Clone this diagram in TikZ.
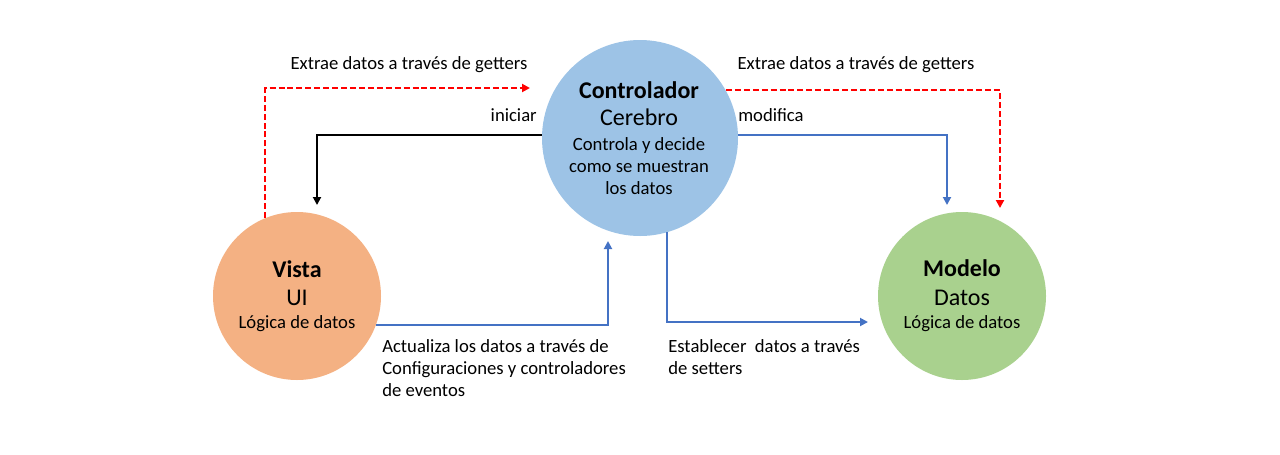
\documentclass[tikz,border=0pt]{standalone}
\usepackage{fontspec}
\setmainfont{Carlito}
\usetikzlibrary{arrows.meta}
\definecolor{cblue}{HTML}{9DC3E6}
\definecolor{corange}{HTML}{F4B183}
\definecolor{cgreen}{HTML}{A9D18E}
\definecolor{lblue}{HTML}{4472C4}
\begin{document}
\begin{tikzpicture}[x=0.75pt,y=-0.75pt,
  bubble/.style={circle,inner sep=0pt},
  txt/.style={inner sep=0pt,font=\fontsize{14}{16.5}\selectfont},
  big/.style={inner sep=0pt,font=\fontsize{18}{20}\selectfont},
  bigb/.style={inner sep=0pt,font=\fontsize{18}{20}\selectfont\bfseries},
  tip/.style={-{Triangle[length=6pt,width=6pt]}},
  blkline/.style={tip,line width=1.4pt,black},
  bluline/.style={tip,line width=1.4pt,lblue},
  redline/.style={tip,line width=1.5pt,red,dash pattern=on 4.5pt off 2.2pt}]
\useasboundingbox (0,0) rectangle (1280,454);
\node[bubble,fill=cblue,minimum size=147pt] (ctrl) at (640,138) {};
\node[bubble,fill=corange,minimum size=126pt] (vista) at (297,296) {};
\node[bubble,fill=cgreen,minimum size=126pt] (modelo) at (962,296) {};
% controller texts
\node[bigb,anchor=base] (c1) at (639,98) {Controlador};
\node[big,anchor=base] (c2) at (639,125) {Cerebro};
\node[txt,anchor=base] (c3) at (639,150) {Controla y decide};
\node[txt,anchor=base] (c4) at (639,172) {como se muestran};
\node[txt,anchor=base] (c5) at (639,194) {los datos};
% vista texts
\node[bigb,anchor=base] (v1) at (297,277) {Vista};
\node[big,anchor=base] (v2) at (297,305) {UI};
\node[txt,anchor=base] (v3) at (297,328) {Lógica de datos};
% modelo texts
\node[bigb,anchor=base] (m1) at (962,276) {Modelo};
\node[big,anchor=base] (m2) at (962,305) {Datos};
\node[txt,anchor=base] (m3) at (962,328) {Lógica de datos};
% free ends
\coordinate (e1) at (530,88);
\coordinate (e2) at (317,205);
\coordinate (e3) at (1000,208);
\coordinate (e4) at (947,205);
\coordinate (e5) at (608,241);
\coordinate (e6) at (868,322);
% connectors
\draw[redline] (vista.112) |- (e1);
\draw[blkline] (ctrl.178) -| (e2);
\draw[redline] (ctrl.29) -| (e3);
\draw[bluline] (ctrl.2) -| (e4);
\draw[bluline] (vista.-20) -| (e5);
\draw[bluline] (ctrl.-74) |- (e6);
% labels
\node[txt,anchor=base] (l1) at (409,69) {Extrae datos a través de getters};
\node[txt,anchor=base] (l2) at (856,69) {Extrae datos a través de getters};
\node[txt,anchor=base east] (l3) at (537,121) {iniciar};
\node[txt,anchor=base west] (l4) at (738,121) {modifica};
\node[txt,anchor=north west,align=left] (l5) at (382,339) {Actualiza los datos a través de\\Configuraciones y controladores\\de eventos};
\node[txt,anchor=north west,align=left] (l6) at (668,339) {Establecer\ \ datos a través\\de setters};
\end{tikzpicture}
\end{document}
